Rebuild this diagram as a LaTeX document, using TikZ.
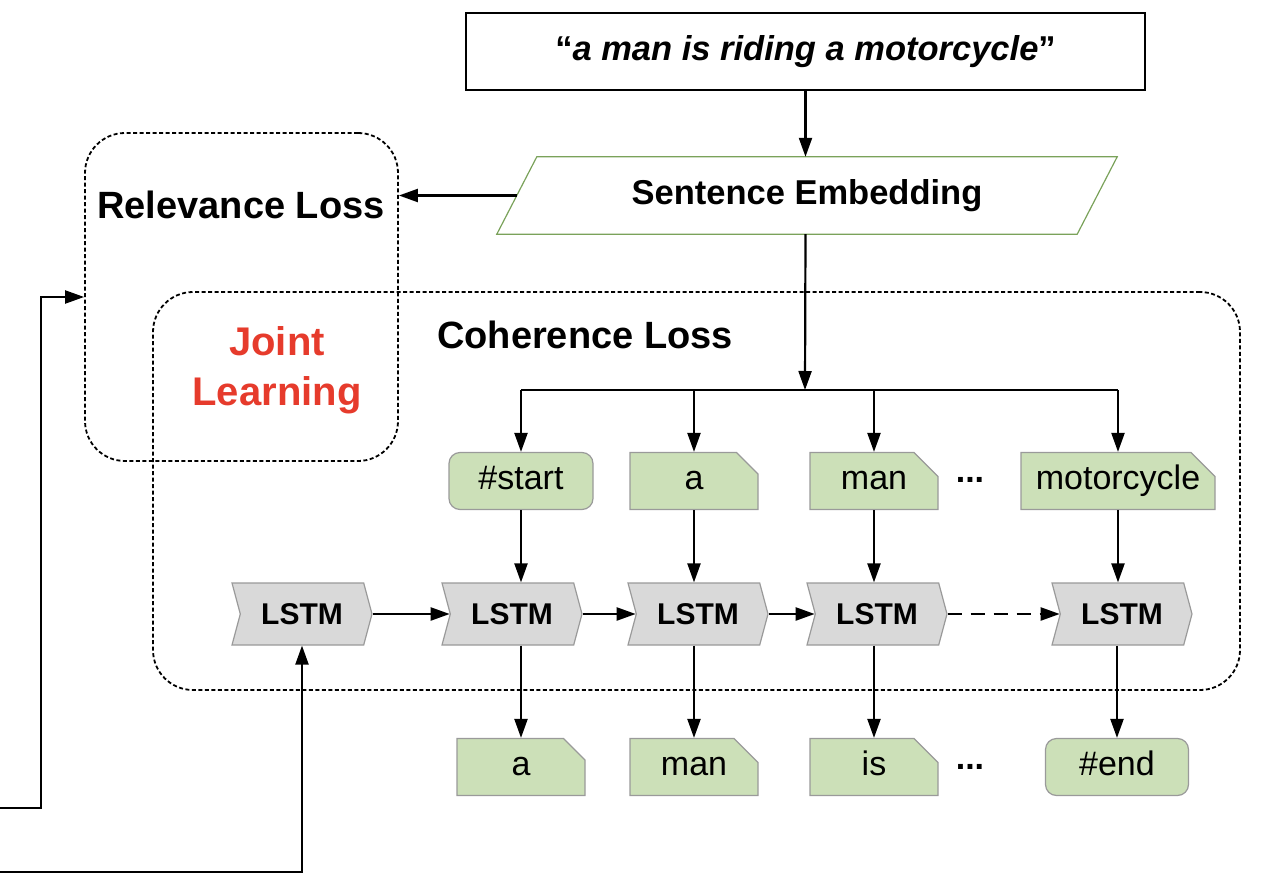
\documentclass[tikz,border=0pt]{standalone}
\usepackage{fontspec}
\setmainfont{Liberation Sans}
\usetikzlibrary{shapes.misc,shapes.symbols,arrows.meta,calc}
\definecolor{wgreen}{HTML}{CCE0B8}
\definecolor{bgray}{HTML}{9A9A9A}
\definecolor{lgray}{HTML}{D9D9D9}
\definecolor{pgreen}{HTML}{7AA25A}
\definecolor{jred}{HTML}{E63B2C}
\newcommand\wordfont{\fontsize{34}{40}\selectfont}
\newcommand\lstmfont{\fontsize{30}{36}\selectfont\bfseries}
\newcommand\lossfont{\fontsize{38}{46}\selectfont\bfseries}
\begin{document}
\begin{tikzpicture}[x=1pt,y=-1pt,
  arr/.style={line width=2.2pt,-{Triangle[length=19pt,width=13pt]}},
  conn/.style={line width=2.2pt},
  wordbox/.style={draw=bgray,line width=1.2pt,fill=wgreen,minimum height=57,inner sep=0pt,text height=24pt,text depth=7pt,font=\wordfont},
  roundword/.style={wordbox,rectangle,rounded corners=11},
  foldword/.style={wordbox,chamfered rectangle,chamfered rectangle corners=north east,chamfered rectangle xsep=12pt,chamfered rectangle ysep=12pt},
  lstm/.style={signal,signal from=west,signal to=east,signal pointer angle=150,fill=lgray,draw=bgray,line width=1.2pt,minimum width=140,minimum height=62,inner sep=0pt,font=\lstmfont},
  lossbox/.style={draw,line width=1.8pt,dash pattern=on 4pt off 2.5pt,rounded corners=40,rectangle,inner sep=0pt},
  dots/.style={font=\wordfont\bfseries,inner sep=0pt}
]
\useasboundingbox (0,0) rectangle (1262,878);

% loss regions
\node[lossbox,minimum width=313,minimum height=328] (rel) at (241.5,297) {};
\node[lossbox,minimum width=1087,minimum height=398] (coh) at (696.5,491) {};
\node[font=\lossfont] (reltext) at (241,205) {Relevance Loss};
\node[font=\lossfont] (cohtext) at (585,335) {Coherence Loss};
\node[font=\fontsize{40}{50}\selectfont\bfseries,text=jred,align=center] (joint) at (277,370) {Joint\\Learning};

% top
\node[draw,line width=1.5pt,minimum width=679,minimum height=77,inner sep=0pt,font=\fontsize{34.5}{40}\selectfont\bfseries] (top) at (805.5,51.5) {“\textit{a man is riding a motorcycle}”};
\node[minimum width=580,minimum height=77,inner sep=0pt,font=\fontsize{34.5}{40}\selectfont\bfseries] (se) at (807,195.5) {Sentence Embedding};
\draw[draw=pgreen,line width=1.2pt] ($(se.south west)+(-20,0)$) -- ($(se.north west)+(20,0)$) -- ($(se.north east)+(20,0)$) -- ($(se.south east)+(-20,0)$) -- cycle;

% word inputs
\node[roundword,minimum width=144] (w0) at (521,481) {\#start};
\node[foldword,minimum width=128] (w1) at (694,481) {a};
\node[foldword,minimum width=128] (w2) at (874,481) {man};
\node[dots] (d1) at (970,480) {...};
\node[foldword,minimum width=194] (w3) at (1118,481) {motorcycle};

% LSTMs
\node[lstm] (l0) at (302,614) {LSTM};
\node[lstm] (l1) at (512,614) {LSTM};
\node[lstm] (l2) at (698,614) {LSTM};
\node[lstm] (l3) at (877,614) {LSTM};
\node[lstm] (l4) at (1122,614) {LSTM};

% outputs
\node[foldword,minimum width=128] (o1) at (521,767) {a};
\node[foldword,minimum width=128] (o2) at (694,767) {man};
\node[foldword,minimum width=128] (o3) at (874,767) {is};
\node[dots] (d2) at (970,767) {...};
\node[roundword,minimum width=143] (o4) at (1117,767) {\#end};

% coordinates
\coordinate (split) at (805,390);
\coordinate (inA) at (0,808);
\coordinate (inB) at (0,872);

% connectors
\draw[arr] (top.south) -- (top.south |- se.north);
\draw[arr] (se.west) -- (se.west -| rel.east);
\draw[arr] (top.south |- se.south) -- (split);
\draw[conn] (w0.north |- split) -- (w3.north |- split);
\foreach \w in {w0,w1,w2,w3}{\draw[arr] (\w.north |- split) -- (\w.north);}
\foreach \w/\l in {w0/l1,w1/l2,w2/l3,w3/l4}{\draw[arr] (\w.south) -- (\w.south |- \l.north);}
\foreach \l/\o in {l1/o1,l2/o2,l3/o3,l4/o4}{\draw[arr] (\o.north |- \l.south) -- (\o.north);}
\draw[arr] (l0.east) -- (l1.west);
\draw[arr] (l1.east) -- (l2.west);
\draw[arr] (l2.east) -- (l3.west);
\draw[arr,dash pattern=on 14pt off 9pt] (l3.east) -- (l4.west);
\draw[arr] (inA) -| ([xshift=-43pt]rel.west) |- (rel.west);
\draw[arr] (inB) -| (l0.south);
\end{tikzpicture}
\end{document}
